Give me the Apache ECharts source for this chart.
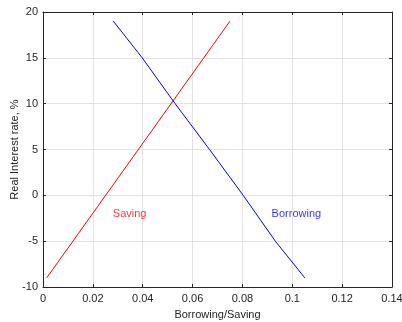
<!DOCTYPE html>
<html>
<head>
<meta charset="utf-8">
<script src="https://cdn.jsdelivr.net/npm/echarts@6/dist/echarts.min.js"></script>
<style>
  html, body { margin: 0; padding: 0; background: #fff; }
  #chart { width: 402px; height: 322px; }
</style>
</head>
<body>
<div id="chart"></div>
<script>
// curves
const savingX = [0.0015, 0.075];
const savingY = [-9, 19];
const borrowingX = [0.0282, 0.0398, 0.053, 0.0668, 0.0803, 0.0932, 0.105];
const borrowingY = [19, 15, 10, 5, 0, -5, -9];

// in-plot text labels
const labelNames = ['Saving', 'Borrowing'];
const labelX = [0.028, 0.0917];
const labelY = [-2, -2];
const labelColors = ['#ff0000', '#0000ff'];

const font = 'Liberation Sans, Arial, Helvetica, sans-serif';
const axisColor = '#262626';

const zip = (xs, ys) => xs.map((x, i) => [x, ys[i]]);

const chart = echarts.init(document.getElementById('chart'));

// mirrored axes to close the box (top / right)
const frameAxis = {
    type: 'value',
    axisLine: { show: true, onZero: false, lineStyle: { color: axisColor, width: 1 } },
    axisTick: { show: true, inside: true, length: 3, lineStyle: { color: axisColor } },
    axisLabel: { show: false },
    splitLine: { show: false }
};

const option = {
    animation: false,
    backgroundColor: '#fff',
    grid: { left: 43, right: 10, top: 12, bottom: 35, containLabel: false, outerBoundsMode: 'none' },
    xAxis: [
        {
            type: 'value',
            min: 0,
            max: 0.14,
            interval: 0.02,
            name: 'Borrowing/Saving',
            nameLocation: 'middle',
            nameGap: 22,
            nameMoveOverlap: false,
            nameTextStyle: { color: axisColor, fontSize: 11, fontFamily: font },
            axisLine: { show: true, onZero: false, lineStyle: { color: axisColor, width: 1 } },
            axisTick: { show: true, inside: true, length: 3, lineStyle: { color: axisColor } },
            axisLabel: {
                color: axisColor, fontSize: 11, fontFamily: font, margin: 6,
                formatter: v => String(+v.toFixed(2))
            },
            splitLine: { show: true, lineStyle: { color: '#e3e3e3', width: 1 } }
        },
        Object.assign({}, frameAxis, { position: 'top', min: 0, max: 0.14, interval: 0.02 })
    ],
    yAxis: [
        {
            type: 'value',
            min: -10,
            max: 20,
            interval: 5,
            name: 'Real Interest rate, %',
            nameLocation: 'middle',
            nameGap: 23,
            nameMoveOverlap: false,
            nameTextStyle: { color: axisColor, fontSize: 11, fontFamily: font },
            axisLine: { show: true, onZero: false, lineStyle: { color: axisColor, width: 1 } },
            axisTick: { show: true, inside: true, length: 3, lineStyle: { color: axisColor } },
            axisLabel: { color: axisColor, fontSize: 11, fontFamily: font, margin: 5 },
            splitLine: { show: true, lineStyle: { color: '#e3e3e3', width: 1 } }
        },
        Object.assign({}, frameAxis, { position: 'right', min: -10, max: 20, interval: 5 })
    ],
    series: [
        {
            name: 'Saving',
            type: 'line',
            data: zip(savingX, savingY),
            showSymbol: false,
            lineStyle: { color: '#ff0000', width: 1 },
            z: 3
        },
        {
            name: 'Borrowing',
            type: 'line',
            data: zip(borrowingX, borrowingY),
            showSymbol: false,
            lineStyle: { color: '#0000ff', width: 1 },
            z: 3
        },
        {
            type: 'scatter',
            symbolSize: 0,
            data: labelNames.map((n, i) => ({
                value: [labelX[i], labelY[i]],
                name: n,
                label: { color: labelColors[i] }
            })),
            label: {
                show: true,
                position: 'right',
                distance: 0,
                formatter: p => p.name,
                fontSize: 11,
                fontFamily: font
            },
            silent: true,
            z: 4
        }
    ]
};

chart.setOption(option);
</script>
</body>
</html>
